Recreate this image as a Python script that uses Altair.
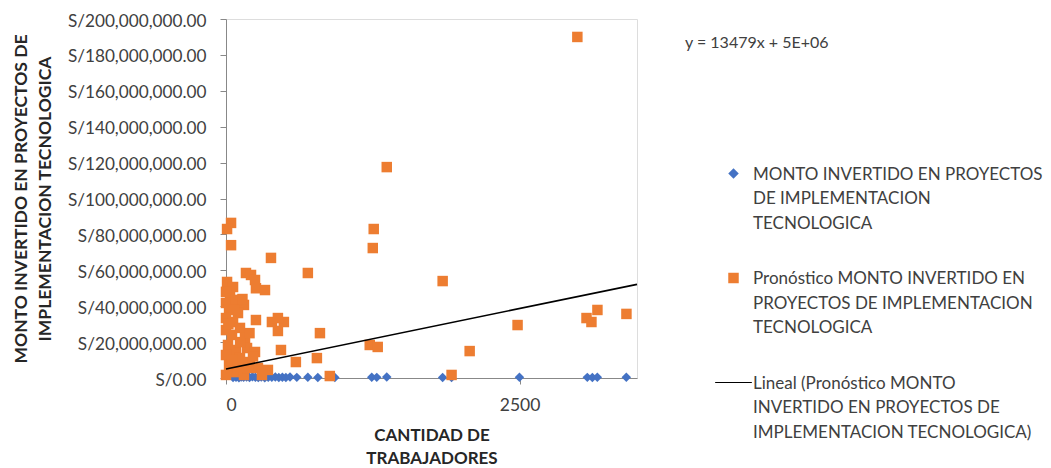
import altair as alt
import pandas as pd

# Serie real: cantidad de trabajadores vs monto invertido (S/)
trab_real = [60, 85, 110, 130, 150, 175, 200, 225, 250, 275, 300, 330, 360,
             390, 420, 450, 480, 510, 545, 603, 697, 782, 927, 1241, 1284,
             1369, 1845, 1921, 2499, 3077, 3120, 3162, 3409]
monto_real = [300000, 450000, 200000, 600000, 350000, 500000, 250000, 700000,
              400000, 300000, 550000, 200000, 450000, 350000, 600000, 250000,
              400000, 300000, 500000, 350000, 450000, 250000, 300000, 400000,
              350000, 500000, 300000, 250000, 400000, 350000, 300000, 450000,
              400000]

# Serie pronosticada
trab_pron = [2992, 1369, 1258, 1250, 43, 9, 43, 383, 697, 170, 213, 247, 255,
             332, 1845, 9, 60, 34, 0, 153, 0, 85, 26, 102, 0, 60, 255, 391,
             493, 442, 442, 800, 468, 595, 774, 884, 357, 1224, 1292, 2075,
             1921, 2483, 3070, 3112, 3163, 3410,
             0, 51, 119, 162, 17, 85, 179, 0, 119, 204, 26, 85, 0, 153, 272,
             306, 51, 247, 187, 120, 200, 70, 140, 20, 100, 230]
monto_pron_m = [190, 117.5, 83, 72.4, 86.4, 83, 74, 66.9, 58.5, 58.5, 57.4,
                54.6, 50, 49, 54, 53.5, 50.7, 46, 48, 40.7, 41.8, 43.5, 37.9,
                36.2, 33.4, 31.2, 32.3, 31.2, 31.2, 33.4, 26.2, 25, 15.6, 8.9,
                11.1, 1.1, 4.5, 18.4, 17.3, 15, 1.7, 29.5, 33.4, 31.2, 37.9,
                35.7,
                26.7, 24, 27.9, 22.3, 18.4, 15.6, 16.7, 12.8, 11.1, 8.9, 7.2,
                3.3, 1.7, 1.7, 5.6, 1.7, 10, 14.5, 5.6, 20, 25, 38, 44, 30, 6,
                12]
monto_pron = [v * 1_000_000 for v in monto_pron_m]

# Línea de tendencia: y = 13479x + 5E+06
pendiente = 13479
intercepto = 5e6
x_tendencia = [0, 3500]
y_tendencia = [pendiente * x + intercepto for x in x_tendencia]

S_REAL = "MONTO INVERTIDO EN PROYECTOS|DE IMPLEMENTACION|TECNOLOGICA"
S_PRON = "Pronóstico MONTO INVERTIDO EN|PROYECTOS DE IMPLEMENTACION|TECNOLOGICA"
S_TEND = "Lineal (Pronóstico MONTO|INVERTIDO EN PROYECTOS DE|IMPLEMENTACION TECNOLOGICA)"
series = [S_REAL, S_PRON, S_TEND]
colores = ["#4472C4", "#ED7D31", "#000000"]
formas = ["diamond", "square", "M-3.5,-0.1H3.5V0.1H-3.5Z"]

df_real = pd.DataFrame({"trabajadores": trab_real, "monto": monto_real, "serie": S_REAL})
df_pron = pd.DataFrame({"trabajadores": trab_pron, "monto": monto_pron, "serie": S_PRON})
df_tend = pd.DataFrame({"trabajadores": x_tendencia, "monto": y_tendencia, "serie": S_TEND})

FUENTE = "Lato"
GRIS = "#A6A6A6"
TEXTO = "#404040"
TITULO = "#262626"

x_enc = alt.X(
    "trabajadores:Q",
    scale=alt.Scale(domain=[0, 3500], nice=False, zero=True),
    axis=alt.Axis(
        values=[0, 2500], format="d", grid=False,
        labelFont=FUENTE, labelFontSize=17.5, labelColor=TEXTO,
        labelPadding=19, tickSize=6,
        title=["CANTIDAD DE", "TRABAJADORES"],
        titleFont=FUENTE, titleFontWeight="bold", titleFontSize=17,
        titleLineHeight=23, titlePadding=14, titleColor=TITULO,
    ),
)
y_enc = alt.Y(
    "monto:Q",
    scale=alt.Scale(domain=[0, 200_000_000], nice=False),
    axis=alt.Axis(
        values=list(range(0, 200_000_001, 20_000_000)),
        labelExpr="'S/' + format(datum.value, ',.2f')",
        grid=False,
        labelFont=FUENTE, labelFontSize=17.2, labelColor=TEXTO,
        labelBaseline="top", labelPadding=14, tickSize=6,
        title=["MONTO INVERTIDO EN PROYECTOS DE", "IMPLEMENTACION TECNOLOGICA"],
        titleFont=FUENTE, titleFontWeight="bold", titleFontSize=17.5,
        titleLineHeight=24, titlePadding=13, titleColor=TITULO,
    ),
)

leyenda = alt.Legend(
    title=None, orient="none", legendX=499, legendY=146, padding=0,
    labelExpr="split(datum.label, '|')", labelLimit=400,
    labelFontSize=17, labelFont=FUENTE, labelColor=TEXTO,
    labelBaseline="top", labelOffset=11,
    symbolSize=110, symbolStrokeWidth=0, rowPadding=37.5,
)
color = alt.Color("serie:N", scale=alt.Scale(domain=series, range=colores), legend=leyenda)
forma = alt.Shape("serie:N", scale=alt.Scale(domain=series, range=formas), legend=leyenda)

puntos_real = alt.Chart(df_real).mark_point(filled=True, opacity=1, size=90).encode(
    x=x_enc, y=y_enc, color=color, shape=forma)
puntos_pron = alt.Chart(df_pron).mark_point(filled=True, opacity=1, size=110).encode(
    x=x_enc, y=y_enc, color=color, shape=forma)
tendencia = alt.Chart(df_tend).mark_line(color="#000000", strokeWidth=1.6).encode(
    x=x_enc, y=y_enc)

ecuacion = alt.Chart(pd.DataFrame({"texto": [f"y = {pendiente}x + 5E+06"]})).mark_text(
    align="left", baseline="middle", font=FUENTE, fontSize=16, color=TEXTO
).encode(x=alt.value(459), y=alt.value(24), text="texto:N")

chart = alt.layer(puntos_real, puntos_pron, tendencia, ecuacion).properties(
    width=411, height=359,
    autosize=alt.AutoSizeParams(type="none"),
    padding={"left": 226, "top": 19, "right": 414, "bottom": 90},
).configure_axis(
    domainColor=GRIS, tickColor=GRIS,
).configure_view(stroke=None).configure(
    style={"guide-label": {"lineHeight": 24.5, "dy": -7, "font": FUENTE,
                           "fontSize": 16, "fill": TEXTO}}
)

chart.save("out.html", embed_options={"renderer": "svg", "actions": False})
